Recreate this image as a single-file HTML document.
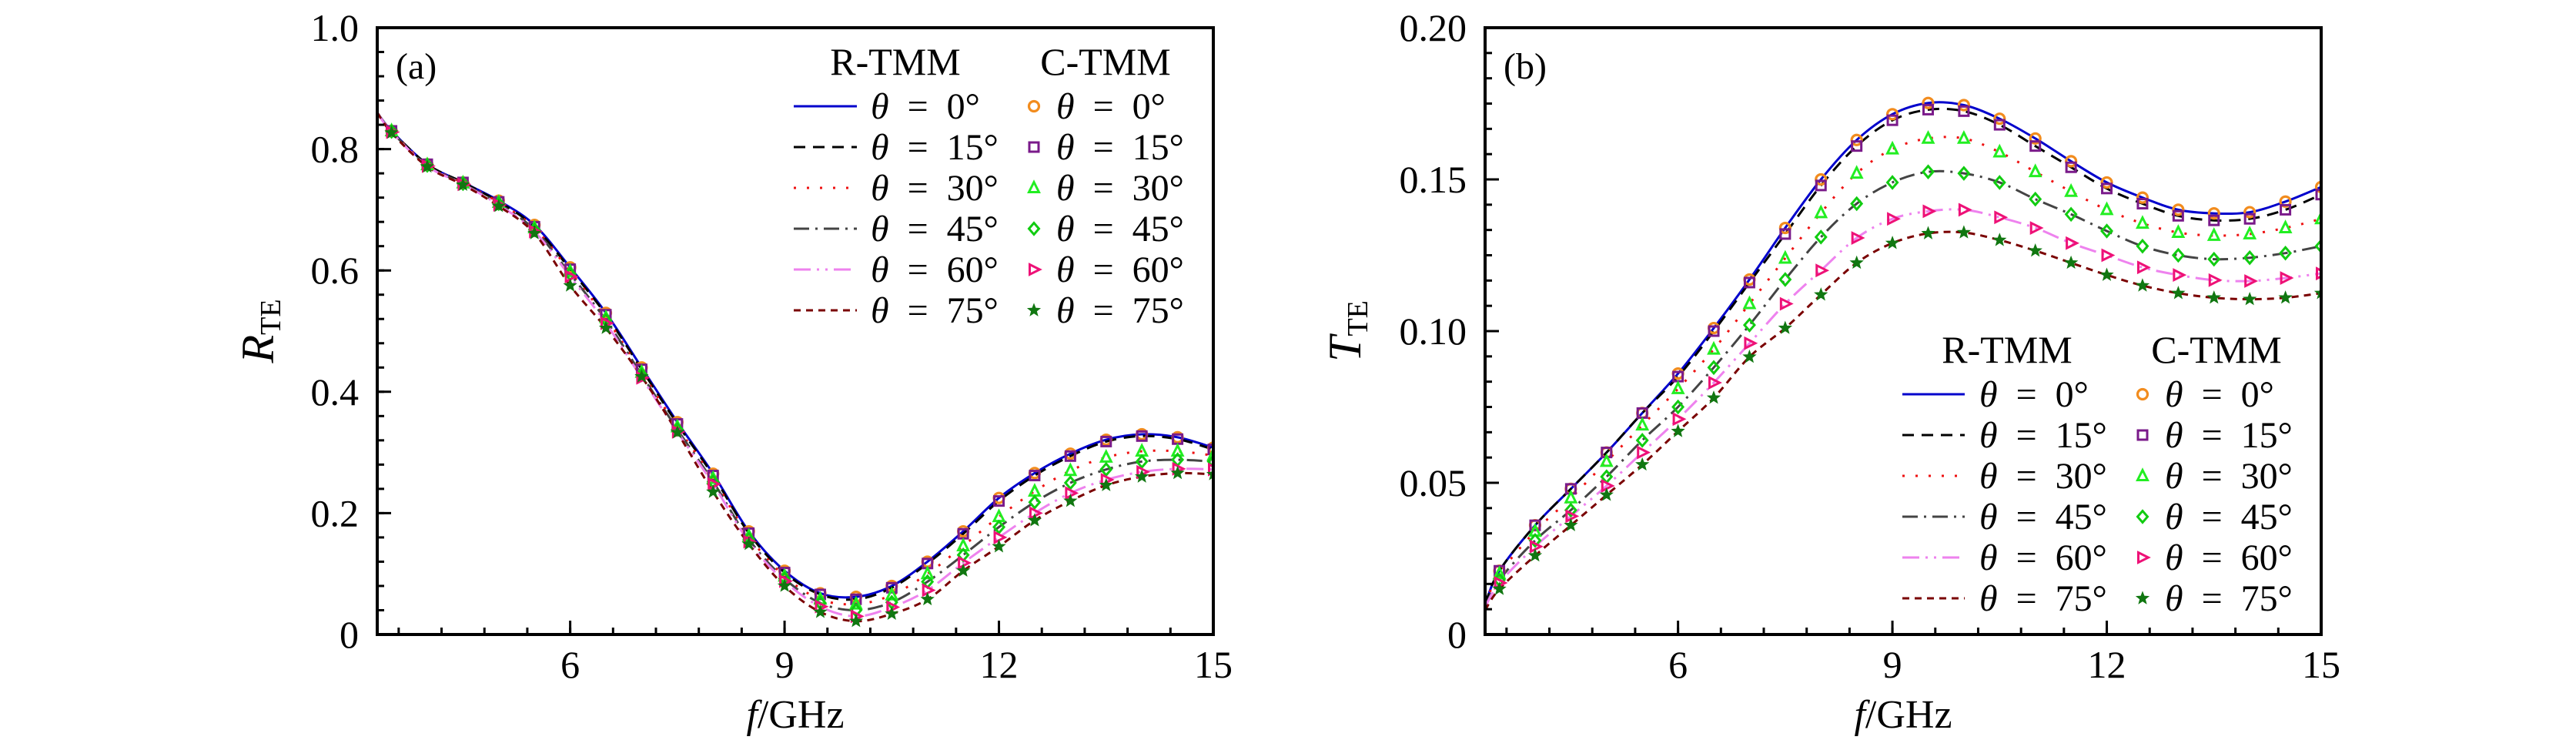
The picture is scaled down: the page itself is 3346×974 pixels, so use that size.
<!DOCTYPE html>
<html><head><meta charset="utf-8">
<style>
html,body{margin:0;padding:0;background:#fff;}
svg{display:block;font-family:"Liberation Serif",serif;}
</style></head>
<body>
<svg id="fig" width="3346" height="974" viewBox="0 0 3346 974" xmlns="http://www.w3.org/2000/svg"></svg>
<script>
const freq = [3.3,3.5,4,4.5,5,5.5,6,6.5,7,7.5,8,8.5,9,9.5,10,10.5,11,11.5,12,12.5,13,13.5,14,14.5,15];
const angles = ["0","15","30","45","60","75"];
const R0  = [.86,.83,.775,.745,.715,.675,.605,.53,.44,.35,.265,.17,.105,.068,.062,.08,.12,.17,.225,.266,.298,.321,.33,.325,.308];
const R15 = [.86,.83,.775,.745,.713,.672,.602,.527,.437,.347,.262,.167,.102,.066,.058,.077,.117,.166,.22,.262,.294,.318,.327,.322,.305];
const R30 = [.86,.83,.774,.744,.712,.67,.598,.522,.432,.342,.257,.162,.096,.058,.05,.065,.1,.146,.194,.236,.27,.292,.302,.302,.295];
const R45 = [.86,.829,.773,.743,.71,.667,.594,.518,.428,.338,.252,.157,.092,.052,.04,.053,.087,.131,.177,.218,.25,.272,.285,.288,.285];
const R60 = [.86,.828,.772,.742,.708,.664,.59,.513,.423,.334,.248,.153,.088,.046,.03,.045,.073,.118,.16,.2,.233,.255,.268,.273,.272];
const R75 = [.86,.827,.771,.741,.706,.661,.575,.505,.425,.333,.235,.149,.08,.037,.022,.034,.058,.105,.145,.188,.22,.246,.26,.266,.264];
const T0  = [.010,.021,.036,.048,.060,.073,.086,.101,.117,.134,.150,.163,.1715,.1752,.1745,.170,.1635,.156,.149,.144,.140,.1388,.1392,.1427,.1475];
const T15 = [.010,.021,.036,.048,.060,.073,.085,.100,.116,.132,.148,.161,.1695,.173,.1725,.168,.161,.154,.147,.142,.138,.1365,.137,.140,.145];
const T30 = [.010,.020,.034,.045,.057,.069,.081,.094,.109,.124,.139,.152,.160,.1635,.1635,.159,.1525,.146,.140,.1355,.1325,.1315,.132,.134,.137];
const T45 = [.009,.018,.031,.041,.052,.064,.075,.088,.102,.117,.131,.142,.149,.1525,.152,.149,.1435,.1385,.133,.128,.125,.1237,.1242,.1257,.128];
const T60 = [.009,.017,.029,.039,.049,.060,.071,.083,.096,.109,.120,.1307,.137,.1395,.140,.1375,.134,.129,.125,.121,.1185,.1168,.1165,.1175,.119];
const T75 = [.008,.015,.026,.036,.046,.056,.067,.078,.0915,.101,.112,.1225,.129,.1322,.1325,.130,.1265,.1225,.1185,.115,.1125,.111,.1105,.111,.1125];
const xTicks = [6,9,12,15];
const yTicksA = [0,0.2,0.4,0.6,0.8,1.0];
const yLabelsA = ["0","0.2","0.4","0.6","0.8","1.0"];
const yTicksB = [0,0.05,0.10,0.15,0.20];
const yLabelsB = ["0","0.05","0.10","0.15","0.20"];

const NS="http://www.w3.org/2000/svg";
const svg=document.getElementById('fig');
function mk(tag,attrs,parent){const e=document.createElementNS(NS,tag);for(const k in attrs)e.setAttribute(k,attrs[k]);(parent||svg).appendChild(e);return e;}

const lineStyles=[
 {c:"#0000cc",d:""},
 {c:"#000000",d:"15 10"},
 {c:"#ee1111",d:"3 14"},
 {c:"#444444",d:"20 8 3 8"},
 {c:"#ee82ee",d:"22 8 3 8 3 8"},
 {c:"#7a0000",d:"9 7"}];
const markColors=["#f28c1e","#7a1a8a","#22ee22","#11cc11","#ee1177","#117711"];

function markerShape(g,i,x,y){
 const c=markColors[i];const s=6.5;
 let e;
 if(i===0) e=mk('circle',{cx:x,cy:y,r:s,fill:'none',stroke:c,'stroke-width':3.2},g);
 else if(i===1) e=mk('rect',{x:x-s+0.5,y:y-s+0.5,width:2*s-1,height:2*s-1,fill:'none',stroke:c,'stroke-width':3},g);
 else if(i===2) e=mk('polygon',{points:`${x},${y-s-1} ${x+s},${y+s-1} ${x-s},${y+s-1}`,fill:'none',stroke:c,'stroke-width':3},g);
 else if(i===3) e=mk('polygon',{points:`${x},${y-s-1} ${x+s},${y} ${x},${y+s+1} ${x-s},${y}`,fill:'none',stroke:c,'stroke-width':3},g);
 else if(i===4) e=mk('polygon',{points:`${x-s+1},${y-s} ${x+s+1},${y} ${x-s+1},${y+s}`,fill:'none',stroke:c,'stroke-width':3},g);
 else {let p=[];for(let k=0;k<10;k++){const a=-Math.PI/2+k*Math.PI/5;const r=k%2?3.2:7.5;p.push((x+r*Math.cos(a)).toFixed(1)+','+(y+r*Math.sin(a)).toFixed(1));}
   e=mk('polygon',{points:p.join(' '),fill:c,stroke:c,'stroke-width':1.5},g);}
 
 
 return e;
}
function smoothPath(pts){
 let d=`M${pts[0][0]},${pts[0][1]}`;
 for(let i=0;i<pts.length-1;i++){
  const p0=pts[i-1]||pts[i],p1=pts[i],p2=pts[i+1],p3=pts[i+2]||p2;
  const c1=[p1[0]+(p2[0]-p0[0])/6,p1[1]+(p2[1]-p0[1])/6];
  const c2=[p2[0]-(p3[0]-p1[0])/6,p2[1]-(p3[1]-p1[1])/6];
  d+=` C${c1[0].toFixed(1)},${c1[1].toFixed(1)} ${c2[0].toFixed(1)},${c2[1].toFixed(1)} ${p2[0].toFixed(1)},${p2[1].toFixed(1)}`;
 }
 return d;
}
function thetaText(parent,x,y,a){
 const t=mk('text',{x:x,y:y,'font-size':48},parent);
 
 
 const ti=mk('tspan',{'font-style':'italic'},t);ti.textContent='θ';
 const tr=mk('tspan',{},t);tr.textContent='\u2002=\u2002'+a+'°';
 return t;
}

function panel(o){
 const g=mk('g',{});
 
 
 const X=f=>o.L+(f-3.3)/(15-3.3)*(o.R-o.L);
 const Y=v=>o.B-v/o.ymax*(o.B-o.T);
 const clip='clip'+o.id;
 const cp=mk('clipPath',{id:clip},g);mk('rect',{x:o.L,y:o.T,width:o.R-o.L,height:o.B-o.T},cp);
 o.series.forEach((s,i)=>{
  const pts=freq.map((f,k)=>[X(f),Y(s[k])]);
  const p=mk('path',{d:smoothPath(pts),fill:'none',stroke:lineStyles[i].c,'stroke-width':3,'stroke-dasharray':lineStyles[i].d,'clip-path':`url(#${clip})`},g);
  
  
 });
 o.series.forEach((s,i)=>{
  const mg=mk('g',{'clip-path':`url(#${clip})`},g);
  
  
  freq.forEach((f,k)=>{ if(k===0)return; markerShape(mg,i,X(f),Y(s[k])); });
 });
 const fr=mk('rect',{x:o.L,y:o.T,width:o.R-o.L,height:o.B-o.T,fill:'none',stroke:'#000','stroke-width':4},g);
 
 
 for(let f=3.6;f<15;f+=0.6){const x=X(f);mk('line',{x1:x,x2:x,y1:o.B,y2:o.B-9,stroke:'#000','stroke-width':3},g);}
 xTicks.forEach(f=>{const x=X(f);mk('line',{x1:x,x2:x,y1:o.B,y2:o.B-18,stroke:'#000','stroke-width':3},g);
  const t=mk('text',{x:x,y:o.B+56,'font-size':50,'text-anchor':'middle'},g);t.textContent=f;
  });
 const nMinor=o.nMinor;const minorStep=o.ymax/nMinor;
 for(let k=1;k<nMinor;k++){const y=Y(k*minorStep);mk('line',{x1:o.L,x2:o.L+9,y1:y,y2:y,stroke:'#000','stroke-width':3},g);}
 o.yTicks.forEach((v,k)=>{const y=Y(v);mk('line',{x1:o.L,x2:o.L+18,y1:y,y2:y,stroke:'#000','stroke-width':3},g);
  const t=mk('text',{x:o.L-24,y:y+17,'font-size':50,'text-anchor':'end'},g);t.textContent=o.yLabels[k];
  });
 const pl=mk('text',{x:o.L+24,y:o.T+66,'font-size':48},g);pl.textContent=o.label;
 
 const xt=mk('text',{x:(o.L+o.R)/2,y:945,'font-size':52,'text-anchor':'middle'},g);
 
 const xi=mk('tspan',{'font-style':'italic'},xt);xi.textContent='f';
 const xr=mk('tspan',{},xt);xr.textContent='/GHz';
 const yt=mk('text',{x:0,y:0,'font-size':60,'text-anchor':'middle',transform:`translate(${o.L-o.ylx},${(o.T+o.B)/2}) rotate(-90)`},g);
 
 const yi=mk('tspan',{'font-style':'italic'},yt);yi.textContent=o.ylab;
 const ys=mk('tspan',{'font-size':38,dy:9},yt);ys.textContent='TE';
 const lg=mk('g',{},g);
 
 const L=o.leg;
 const h1=mk('text',{x:L.rc,y:L.ty,'font-size':50,'text-anchor':'middle'},lg);h1.textContent='R-TMM';
 
 const h2=mk('text',{x:L.cc,y:L.ty,'font-size':50,'text-anchor':'middle'},lg);h2.textContent='C-TMM';
 
 angles.forEach((a,i)=>{const y=L.y0+i*L.dy;
  const ln=mk('line',{x1:L.lx1,x2:L.lx2,y1:y,y2:y,stroke:lineStyles[i].c,'stroke-width':3,'stroke-dasharray':lineStyles[i].d},lg);
  
  thetaText(lg,L.tx,y+16,a);
  markerShape(lg,i,L.mx,y);
  thetaText(lg,L.mx+29,y+16,a);
 });
}

panel({id:'a',name:'panel-a-reflectance',L:490,R:1576,T:36,B:824,ymax:1.0,nMinor:25,series:[R0,R15,R30,R45,R60,R75],
 yTicks:yTicksA,yLabels:yLabelsA,label:'(a)',ylab:'R',ylx:135,
 leg:{rc:1163,cc:1436,ty:97,y0:138,dy:53,lx1:1031,lx2:1113,tx:1131,mx:1343}});
panel({id:'b',name:'panel-b-transmittance',L:1929,R:3015,T:36,B:824,ymax:0.2,nMinor:24,series:[T0,T15,T30,T45,T60,T75],
 yTicks:yTicksB,yLabels:yLabelsB,label:'(b)',ylab:'T',ylx:162,
 leg:{rc:2607,cc:2879,ty:471,y0:512,dy:53,lx1:2471,lx2:2552,tx:2571,mx:2783}});
</script>
</body></html>
